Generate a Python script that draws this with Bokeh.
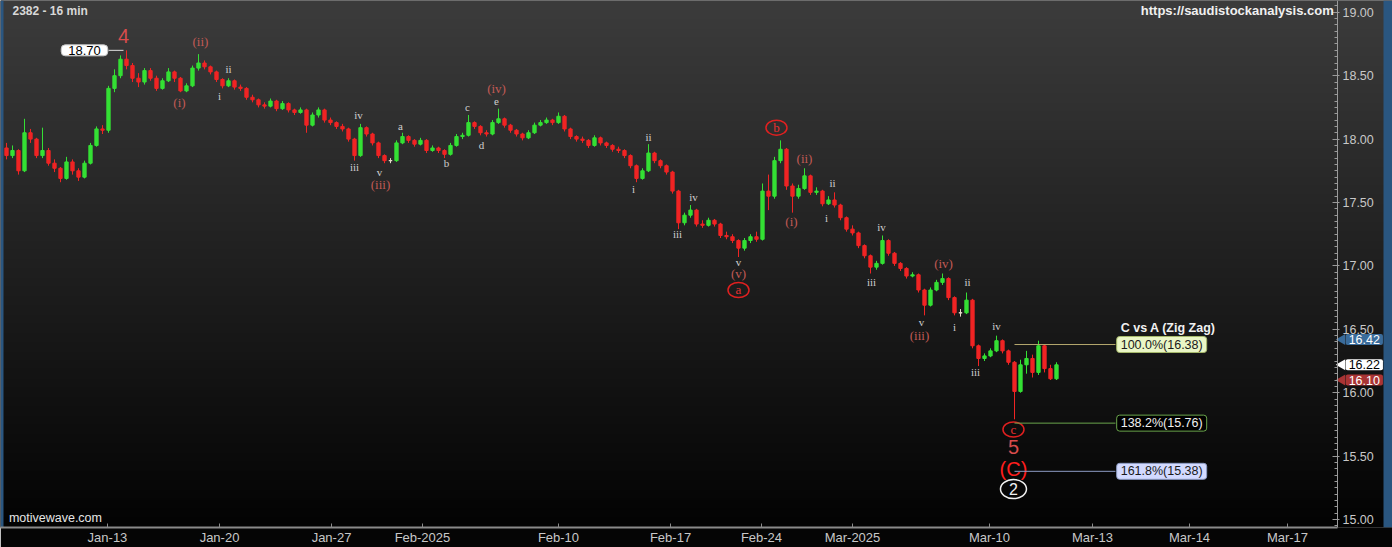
import numpy as np
from bokeh.plotting import figure
from bokeh.models import (ColumnDataSource, Range1d, FixedTicker, SingleIntervalTicker,
                          PrintfTickFormatter, CustomJSTickFormatter, Label)
from bokeh.core.properties import value
from bokeh.embed import file_html
from bokeh.resources import INLINE

# ---------------- data ----------------
OPEN0 = 17.93
CLOSE = [17.87, 17.91, 17.75, 18.05, 18.00, 17.87, 17.91, 17.81, 17.77, 17.69,
         17.82, 17.75, 17.70, 17.81, 17.95, 18.08, 18.07, 18.40, 18.50, 18.63,
         18.58, 18.48, 18.45, 18.54, 18.48, 18.40, 18.46, 18.53, 18.48, 18.38,
         18.42, 18.56, 18.60, 18.57, 18.53, 18.47, 18.42, 18.46, 18.41, 18.40,
         18.33, 18.31, 18.27, 18.26, 18.30, 18.24, 18.28, 18.23, 18.21, 18.23,
         18.11, 18.19, 18.23, 18.15, 18.13, 18.10, 18.08, 18.00, 17.87, 18.09,
         18.04, 17.97, 17.87, 17.83, 17.83, 17.97, 18.02, 17.99, 17.96, 17.99,
         17.91, 17.93, 17.91, 17.88, 17.95, 18.02, 18.03, 18.13, 18.10, 18.05,
         18.04, 18.13, 18.16, 18.11, 18.07, 18.04, 18.01, 18.05, 18.11, 18.13,
         18.15, 18.13, 18.18, 18.08, 18.02, 18.00, 17.99, 17.95, 18.01, 17.97,
         17.95, 17.92, 17.91, 17.87, 17.79, 17.69, 17.75, 17.89, 17.83, 17.79,
         17.74, 17.59, 17.34, 17.40, 17.44, 17.33, 17.32, 17.36, 17.33, 17.24,
         17.23, 17.20, 17.14, 17.20, 17.23, 17.21, 17.59, 17.55, 17.83, 17.92,
         17.63, 17.55, 17.61, 17.71, 17.58, 17.59, 17.49, 17.52, 17.48, 17.38,
         17.29, 17.26, 17.16, 17.08, 16.99, 17.02, 17.20, 17.10, 17.02, 16.98,
         16.92, 16.93, 16.81, 16.69, 16.81, 16.87, 16.90, 16.75, 16.63, 16.63,
         16.73, 16.37, 16.27, 16.29, 16.33, 16.41, 16.33, 16.24, 16.01, 16.22,
         16.27, 16.16, 16.37, 16.19, 16.11, 16.22]
HIGH = [17.97, 17.95, 17.92, 18.16, 18.08, 18.01, 18.09, 17.93, 17.84, 17.78,
        17.86, 17.84, 17.77, 17.83, 17.97, 18.10, 18.11, 18.42, 18.55, 18.66,
        18.70, 18.60, 18.52, 18.56, 18.56, 18.50, 18.48, 18.56, 18.54, 18.49,
        18.44, 18.58, 18.67, 18.62, 18.58, 18.54, 18.48, 18.48, 18.47, 18.43,
        18.41, 18.35, 18.32, 18.29, 18.32, 18.31, 18.30, 18.29, 18.24, 18.25,
        18.24, 18.21, 18.25, 18.24, 18.17, 18.14, 18.12, 18.09, 18.01, 18.12,
        18.10, 18.05, 17.98, 17.88, 17.85, 17.99, 18.05, 18.03, 18.00, 18.01,
        18.00, 17.95, 17.94, 17.92, 17.97, 18.04, 18.05, 18.19, 18.14, 18.11,
        18.07, 18.15, 18.24, 18.17, 18.12, 18.08, 18.05, 18.07, 18.13, 18.15,
        18.17, 18.16, 18.21, 18.19, 18.09, 18.03, 18.02, 18.00, 18.03, 18.02,
        17.98, 17.96, 17.94, 17.92, 17.88, 17.80, 17.77, 17.96, 17.90, 17.84,
        17.80, 17.75, 17.60, 17.42, 17.48, 17.45, 17.36, 17.38, 17.37, 17.34,
        17.27, 17.25, 17.21, 17.22, 17.25, 17.27, 17.65, 17.72, 17.86, 17.99,
        17.93, 17.65, 17.64, 17.77, 17.72, 17.62, 17.60, 17.55, 17.58, 17.49,
        17.39, 17.32, 17.27, 17.17, 17.09, 17.04, 17.24, 17.21, 17.11, 17.03,
        16.99, 16.95, 16.94, 16.82, 16.83, 16.89, 16.94, 16.91, 16.76, 16.66,
        16.79, 16.74, 16.38, 16.31, 16.35, 16.45, 16.42, 16.34, 16.25, 16.26,
        16.33, 16.30, 16.41, 16.38, 16.22, 16.24]
LOW = [17.84, 17.85, 17.72, 17.74, 17.97, 17.85, 17.85, 17.79, 17.74, 17.66,
       17.68, 17.72, 17.67, 17.69, 17.80, 17.94, 18.04, 18.05, 18.37, 18.48,
       18.55, 18.45, 18.41, 18.43, 18.46, 18.38, 18.39, 18.45, 18.45, 18.37,
       18.37, 18.41, 18.54, 18.55, 18.51, 18.45, 18.40, 18.41, 18.39, 18.38,
       18.31, 18.29, 18.25, 18.24, 18.25, 18.22, 18.23, 18.21, 18.19, 18.20,
       18.05, 18.10, 18.17, 18.13, 18.11, 18.08, 18.06, 17.98, 17.83, 17.86,
       18.02, 17.95, 17.85, 17.81, 17.81, 17.82, 17.96, 17.97, 17.94, 17.95,
       17.89, 17.90, 17.89, 17.85, 17.87, 17.94, 18.00, 18.02, 18.08, 18.03,
       18.02, 18.03, 18.12, 18.09, 18.05, 18.02, 17.99, 18.00, 18.04, 18.10,
       18.12, 18.11, 18.12, 18.06, 18.00, 17.98, 17.97, 17.93, 17.94, 17.95,
       17.93, 17.90, 17.89, 17.85, 17.77, 17.66, 17.68, 17.74, 17.81, 17.77,
       17.72, 17.57, 17.29, 17.32, 17.38, 17.31, 17.30, 17.31, 17.31, 17.22,
       17.21, 17.18, 17.07, 17.12, 17.18, 17.19, 17.20, 17.44, 17.53, 17.81,
       17.60, 17.42, 17.53, 17.60, 17.56, 17.56, 17.47, 17.48, 17.46, 17.36,
       17.27, 17.24, 17.14, 17.06, 16.94, 16.97, 17.01, 17.08, 17.00, 16.96,
       16.90, 16.91, 16.79, 16.61, 16.68, 16.80, 16.85, 16.73, 16.61, 16.60,
       16.62, 16.35, 16.21, 16.25, 16.28, 16.32, 16.31, 16.22, 15.79, 16.00,
       16.15, 16.12, 16.14, 16.16, 16.10, 16.10]

X_TICKS = [16.83, 35.5, 54.17, 69.33, 92.0, 110.67, 125.83, 141.0, 163.83, 181.0, 197.17, 213.5]
X_LABELS = ["Jan-13", "Jan-20", "Jan-27", "Feb-2025", "Feb-10", "Feb-17", "Feb-24",
            "Mar-2025", "Mar-10", "Mar-13", "Mar-14", "Mar-17"]

# wave labels: minor degree (muted red, parenthesised)
MINOR_TEXT = ["(ii)", "(i)", "(iii)", "(iv)", "(v)", "(ii)", "(i)", "(iv)", "(iii)"]
MINOR_X = [32.33, 28.83, 62.33, 81.67, 122.0, 133.0, 130.83, 156.17, 152.17]
MINOR_Y = [18.77, 18.29, 17.64, 18.40, 16.94, 17.85, 17.35, 17.02, 16.45]
# wave labels: minute degree (small grey)
MINUTE_TEXT = ["ii", "i", "iv", "iii", "v", "a", "b", "c", "d", "e",
               "ii", "i", "iv", "iii", "v", "ii", "i", "iv", "iii", "v",
               "ii", "i", "iv", "iii"]
MINUTE_X = [37.0, 35.5, 58.67, 58.0, 62.17, 65.67, 73.33, 76.83, 79.17, 81.67,
            107.0, 104.5, 114.5, 111.83, 122.0, 137.67, 136.67, 145.83, 144.17, 152.5,
            160.17, 158.0, 165.0, 161.5]
MINUTE_Y = [18.55, 18.34, 18.19, 17.78, 17.74, 18.10, 17.81, 18.25, 17.95, 18.30,
            18.02, 17.61, 17.54, 17.25, 17.03, 17.65, 17.38, 17.31, 16.87, 16.56,
            16.87, 16.52, 16.53, 16.16]
# circled intermediate labels
CIRC_TEXT = ["a", "b", "c"]
CIRC_X = [122.0, 128.33, 167.83]
CIRC_Y = [16.81, 18.09, 15.71]
# larger degree labels
BIG_TEXT = ["4", "5"]
BIG_X = [19.5, 167.83]
BIG_Y = [18.81, 15.57]
PRIMARY_TEXT = "(C)"
PRIMARY_POS = (167.83, 15.40)
CYCLE_TEXT = "2"
CYCLE_POS = (167.83, 15.24)

FIB_LEVELS = [16.38, 15.76, 15.38]
FIB_PCT = ["100.0%", "138.2%", "161.8%"]
FIB_END = 184.83
TAG_VALUES = [16.42, 16.22, 16.10]

# ---------------- geometry ----------------
n = len(CLOSE)
xs = np.arange(n)
opens = [OPEN0] + CLOSE[:-1]
X0, X1 = -1.0, 231.0          # frame covers the full width
AXIS_X = 221.833              # where the price axis sits
Y0, Y1 = 14.937, 19.093

p = figure(width=1392, height=547, output_backend="svg",
           toolbar_location=None, tools="", y_axis_location="right",
           x_range=Range1d(X0, X1), y_range=Range1d(Y0, Y1),
           min_border_left=0, min_border_top=0, min_border_bottom=20, min_border_right=0)
p.background_fill_color = "#000000"
p.border_fill_color = "#050505"
p.outline_line_color = None
p.xgrid.visible = False
p.ygrid.visible = False

# vertical background gradient
N = 256
g = np.linspace(3, 60, N).astype(np.uint8)
img = np.empty((N, 1), dtype=np.uint32)
v = img.view(dtype=np.uint8).reshape((N, 1, 4))
v[:, 0, 0] = g
v[:, 0, 1] = g
v[:, 0, 2] = g
v[:, 0, 3] = 255
p.image_rgba(image=[img], x=X0, y=Y0, dw=X1 - X0, dh=Y1 - Y0)
# window edge strips
p.quad(left=[229.5], right=[X1], bottom=[Y0], top=[Y1], fill_color="#2a5680", line_color=None)
p.quad(left=[X0], right=[-0.5], bottom=[Y0], top=[Y1], fill_color="#2a5680", line_color=None)

# candles
cols = []
for o, c in zip(opens, CLOSE):
    if c > o:
        cols.append("#34e034")
    elif c < o:
        cols.append("#f02424")
    else:
        cols.append("#e8dccb")
src = ColumnDataSource(dict(x=xs, o=opens, c=CLOSE, h=HIGH, l=LOW,
                            top=np.maximum(opens, CLOSE), bot=np.minimum(opens, CLOSE),
                            col=cols))
p.segment(x0="x", y0="l", x1="x", y1="h", color="col", line_width=1, source=src)
p.vbar(x="x", width=0.55, top="top", bottom="bot", fill_color="col", line_color="col",
       line_width=1, source=src)

SERIF = value("Liberation Serif")
SANS = value("Liberation Sans")

p.text(x=MINOR_X, y=MINOR_Y, text=MINOR_TEXT, text_font=SERIF, text_font_size="13px",
       text_color="#c25a55", text_align="center", text_baseline="middle")
p.text(x=MINUTE_X, y=MINUTE_Y, text=MINUTE_TEXT, text_font=SERIF, text_font_size="11px",
       text_color="#cfcfcf", text_align="center", text_baseline="middle")
p.ellipse(x=CIRC_X, y=CIRC_Y, width=21, height=15, width_units="screen",
          height_units="screen", fill_color=None, line_color="#e02020", line_width=1.5)
p.text(x=CIRC_X, y=CIRC_Y, text=CIRC_TEXT, text_font=SERIF, text_font_size="13px",
       text_color="#e83030", text_align="center", text_baseline="middle")
p.text(x=BIG_X, y=BIG_Y, text=BIG_TEXT, text_font=SANS, text_font_size="20px",
       text_color="#d94c4c", text_align="center", text_baseline="middle")
p.text(x=[PRIMARY_POS[0]], y=[PRIMARY_POS[1]], text=[PRIMARY_TEXT], text_font=SANS,
       text_font_size="20px", text_color="#ff1e1e", text_align="center", text_baseline="middle")
p.ellipse(x=[CYCLE_POS[0]], y=[CYCLE_POS[1]], width=26, height=19, width_units="screen",
          height_units="screen", fill_color=None, line_color="#f0f0f0", line_width=1.5)
p.text(x=[CYCLE_POS[0]], y=[CYCLE_POS[1]], text=[CYCLE_TEXT], text_font=SANS,
       text_font_size="16px", text_color="#f0f0f0", text_align="center", text_baseline="middle")

# peak marker
pk = int(np.argmax(HIGH))
p.segment(x0=[pk - 3.0], y0=[HIGH[pk]], x1=[pk - 0.5], y1=[HIGH[pk]], line_color="#e0e0e0",
          line_width=1)
p.add_layout(Label(x=pk - 7.0, y=HIGH[pk], text=f"{HIGH[pk]:.2f}", text_align="center",
                   text_baseline="middle", text_font="Liberation Sans", text_font_size="13px",
                   text_color="#000000", background_fill_color="#ffffff",
                   border_line_color="#c8c8c8", border_radius=4, padding=(7, 1)))

# fibonacci projections
lo = int(np.argmin(LOW))
fib_line = ["#b5a86e", "#6aa54c", "#8d9cc4"]
fib_bg = ["#eaf6c6", "#000000", "#d3daff"]
fib_border = ["#a6b96a", "#6aa54c", "#8d9cc4"]
fib_txt = ["#1a1a1a", "#f0f0f0", "#1a1a1a"]
for lev, pct, lc, bg, bc, tc in zip(FIB_LEVELS, FIB_PCT, fib_line, fib_bg, fib_border, fib_txt):
    p.segment(x0=[lo], y0=[lev], x1=[FIB_END], y1=[lev], line_color=lc, line_width=1)
    p.add_layout(Label(x=FIB_END + 7.7, y=lev, text=f"{pct}({lev:.2f})", text_align="center",
                       text_baseline="middle", text_font="Liberation Sans",
                       text_font_size="12.5px", text_color=tc, background_fill_color=bg,
                       border_line_color=bc, border_radius=3, padding=(4, 1)))
p.add_layout(Label(x=FIB_END + 8.8, y=FIB_LEVELS[0] + 0.13, text="C vs A (Zig Zag)",
                   text_align="center", text_baseline="middle", text_font="Liberation Sans",
                   text_font_size="12.5px", text_font_style="bold", text_color="#f0f0f0"))

# corner texts
p.add_layout(Label(x=1.0, y=19.014, text="2382 - 16 min", text_align="left",
                   text_baseline="middle", text_font="Liberation Sans", text_font_size="12px",
                   text_font_style="bold", text_color="#d8d8d8"))
p.add_layout(Label(x=221.2, y=19.014, text="https://saudistockanalysis.com", text_align="right",
                   text_baseline="middle", text_font="Liberation Sans", text_font_size="13px",
                   text_font_style="bold", text_color="#f0f0f0"))
p.add_layout(Label(x=0.4, y=15.01, text="motivewave.com", text_align="left",
                   text_baseline="middle", text_font="Liberation Sans", text_font_size="12.5px",
                   text_color="#e6e6e6"))

# price tags on the price axis
tag_bg = ["#3a6c9b", "#ffffff", "#a93434"]
tag_tc = ["#ffffff", "#000000", "#ffffff"]
p.scatter(x=[222.6] * len(TAG_VALUES), y=TAG_VALUES, marker="triangle", angle=np.pi / 2,
          size=11, fill_color=tag_bg, line_color=None)
for tv, bg, tc in zip(TAG_VALUES, tag_bg, tag_tc):
    p.add_layout(Label(x=226.3, y=tv, text=f"{tv:.2f}", text_align="center",
                       text_baseline="middle", text_font="Liberation Sans",
                       text_font_size="12.5px", text_color=tc, background_fill_color=bg,
                       border_radius=2, padding=(3, 1)))

# axes
p.yaxis.fixed_location = AXIS_X
p.yaxis.ticker = SingleIntervalTicker(interval=0.5, num_minor_ticks=10)
p.yaxis.formatter = PrintfTickFormatter(format="%.2f")
p.yaxis.major_label_text_color = "#c8c8c8"
p.yaxis.major_label_text_font = "Liberation Sans"
p.yaxis.major_label_text_font_size = "12.5px"
p.yaxis.axis_line_color = "#9a9a9a"
p.yaxis.major_tick_line_color = "#9a9a9a"
p.yaxis.minor_tick_line_color = "#9a9a9a"
p.yaxis.major_tick_in = 5
p.yaxis.major_tick_out = 2
p.yaxis.minor_tick_in = 3
p.yaxis.minor_tick_out = 0
p.yaxis.major_label_standoff = 3

p.xaxis.ticker = FixedTicker(ticks=X_TICKS)
p.xaxis.formatter = CustomJSTickFormatter(args=dict(labels=X_LABELS),
                                          code="return labels[index] || '';")
p.xaxis.bounds = (X0, AXIS_X)
p.xaxis.major_label_text_color = "#c8c8c8"
p.xaxis.major_label_text_font = "Liberation Sans"
p.xaxis.major_label_text_font_size = "13px"
p.xaxis.axis_line_color = "#8a8a8a"
p.xaxis.axis_line_width = 2
p.xaxis.major_tick_line_color = "#8a8a8a"
p.xaxis.major_tick_in = 4
p.xaxis.major_tick_out = 0
p.xaxis.minor_tick_line_color = None
p.xaxis.major_label_standoff = 2

open("out.html", "w").write(file_html(p, INLINE))
